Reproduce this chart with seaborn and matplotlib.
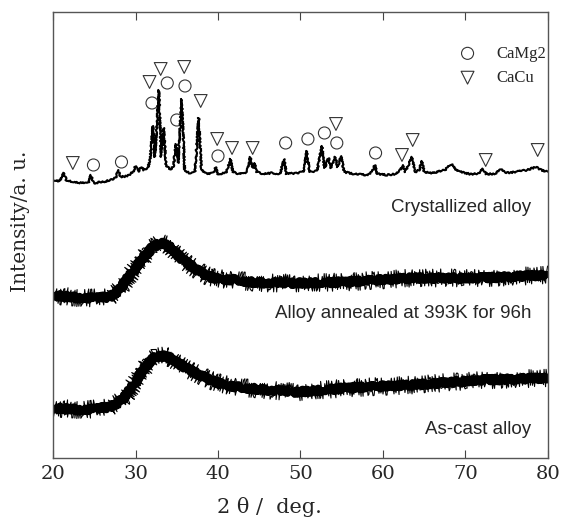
import numpy as np
import pandas as pd
import matplotlib
matplotlib.use("Agg")
import matplotlib.pyplot as plt
import seaborn as sns

sns.set_style("ticks")
plt.rcParams['font.family'] = ['DejaVu Serif']

# ---- datos (2theta en grados, intensidad en u.a.) ----
cryst_2t = [20.0, 20.8, 21.3, 21.6, 22.5, 23.5, 24.3, 24.6, 24.9, 26.0, 27.0, 27.6, 27.9, 28.2,
            29.0, 29.7, 30.0, 30.3, 30.7, 31.0, 31.5, 31.8, 32.1, 32.35, 32.85, 33.1, 33.4, 33.7,
            34.2, 34.6, 34.9, 35.15, 35.6, 35.95, 36.5, 37.2, 37.65, 38.0, 38.6, 39.4, 39.7, 40.0,
            41.0, 41.5, 41.8, 42.6, 43.5, 43.9, 44.2, 44.4, 44.7, 45.5, 46.5, 47.5, 48.0, 48.3,
            49.5, 50.4, 50.75, 51.1, 52.0, 52.6, 52.9, 53.4, 53.7, 54.2, 54.5, 54.9, 55.3, 56.5,
            58.0, 58.7, 59.0, 59.3, 60.5, 61.5, 62.1, 62.4, 62.7, 63.5, 63.9, 64.4, 64.7, 65.0,
            66.0, 67.5, 68.3, 69.0, 70.5, 71.5, 72.1, 72.5, 73.5, 74.4, 74.8, 76.0, 77.5, 78.5,
            79.2, 80.0]
cryst_int = [278, 277, 285, 278, 276, 275, 275, 283, 275, 276, 278, 280, 288, 281,
             282, 286, 292, 286, 291, 288, 290, 300, 332, 301, 368, 301, 330, 293,
             288, 292, 314, 295, 359, 288, 285, 286, 340, 288, 284, 285, 291, 284,
             285, 299, 286, 284, 286, 301, 290, 295, 286, 284, 285, 284, 299, 284,
             285, 286, 307, 286, 287, 312, 290, 300, 290, 301, 291, 302, 286, 284,
             283, 286, 293, 284, 283, 284, 288, 293, 286, 301, 286, 288, 297, 286,
             285, 288, 294, 287, 284, 284, 289, 284, 284, 289, 285, 286, 288, 291,
             288, 286]

anneal_2t = [20, 22, 23.6, 25, 26.9, 28, 28.9, 30, 30.9, 32, 33, 34, 34.5, 35.5, 36.6, 38, 39,
             40.5, 42.3, 44, 45.9, 49.5, 55.6, 63.6, 71.8, 80]
anneal_int = [163, 161, 160, 160, 161, 168, 178, 190, 200, 210, 215, 212, 208, 200, 193, 185, 181,
              179, 178, 176, 175, 175, 176, 180, 180, 183]

cast_2t = [20, 22, 23.6, 25, 26.9, 28, 28.9, 30, 30.9, 31.8, 32.5, 33.5, 34.2, 35.3, 36.6, 38, 39,
           40.5, 42.3, 45.9, 49.5, 55.6, 63.6, 71.8, 80]
cast_int = [50, 49, 48, 49, 51, 56, 63, 76, 88, 97, 101, 102, 100, 94, 88, 82, 78,
            74, 71, 68, 66, 70, 73, 78, 80]

camg2_2t = [24.9, 28.3, 32.0, 33.85, 35.0, 36.0, 40.0, 48.2, 50.9, 52.9, 54.4, 59.1]
camg2_int = [293, 296, 355, 375, 338, 372, 302, 315, 319, 325, 315, 305]
cacu_2t = [22.4, 31.7, 33.05, 35.9, 37.9, 39.9, 41.7, 44.2, 54.3, 62.3, 63.6, 72.45, 78.75]
cacu_int = [295, 376, 389, 391, 357, 319, 310, 310, 334, 303, 318, 298, 308]

etiquetas = ["Crystallized alloy", "Alloy annealed at 393K for 96h", "As-cast alloy"]
etiq_y = [250, 144, 28]

fig = plt.figure(figsize=(5.61, 5.28), dpi=100)
ax = fig.add_axes([0.0945, 0.1326, 0.8823, 0.8447])

# patrones amorfos: banda gruesa + trazo ruidoso
for xs, ys in [(anneal_2t, anneal_int), (cast_2t, cast_int)]:
    df = pd.DataFrame({'x': xs, 'y': ys})
    sns.lineplot(data=df, x='x', y='y', ax=ax, color='black', lw=5, estimator=None, sort=False)
    ax.lines[-1].set_sketch_params(2.5, 2.0, 3.0)
    sns.lineplot(data=df, x='x', y='y', ax=ax, color='black', lw=0.8, estimator=None, sort=False)
    ax.lines[-1].set_sketch_params(9.0, 1.5, 3.0)

df_c = pd.DataFrame({'x': cryst_2t, 'y': cryst_int})
sns.lineplot(data=df_c, x='x', y='y', ax=ax, color='black', lw=1.5, estimator=None, sort=False)
ax.lines[-1].set_sketch_params(0.8, 2.0, 3.0)

sns.scatterplot(x=camg2_2t, y=camg2_int, ax=ax, marker='o', s=75, facecolor='none',
                edgecolor='#333333', linewidth=0.8, label='CaMg2')
sns.scatterplot(x=cacu_2t, y=cacu_int, ax=ax, marker='v', s=85, facecolor='none',
                edgecolor='#333333', linewidth=0.8, label='CaCu')

leg = ax.legend(loc='upper left', bbox_to_anchor=(0.787, 0.958), frameon=False,
                prop={'family': 'Liberation Serif', 'size': 12},
                handletextpad=1.1, labelspacing=0.5, handlelength=1.2)

for t, yv in zip(etiquetas, etiq_y):
    ax.text(78.0, yv, t, ha='right', va='center', fontsize=13.5, family='Liberation Sans')

ax.set_xlim(20, 80)
ax.set_ylim(0, 446)
ax.set_xticks([20, 30, 40, 50, 60, 70, 80])
ax.set_yticks([])
ax.tick_params(axis='x', direction='in', length=6, top=True, labelsize=14, pad=5, color='#444444')
ax.set_xlabel('')
ax.set_ylabel('')
for s in ax.spines.values():
    s.set_visible(True)
    s.set_color('#555555')
    s.set_linewidth(1.0)

fig.text(0.48, 0.02, '2 θ /  deg.', ha='center', va='bottom', fontsize=15)
fig.text(0.037, 0.58, 'Intensity/a. u.', rotation=90, ha='center', va='center', fontsize=14.5)

fig.savefig('out.png', dpi=100, facecolor='white')
